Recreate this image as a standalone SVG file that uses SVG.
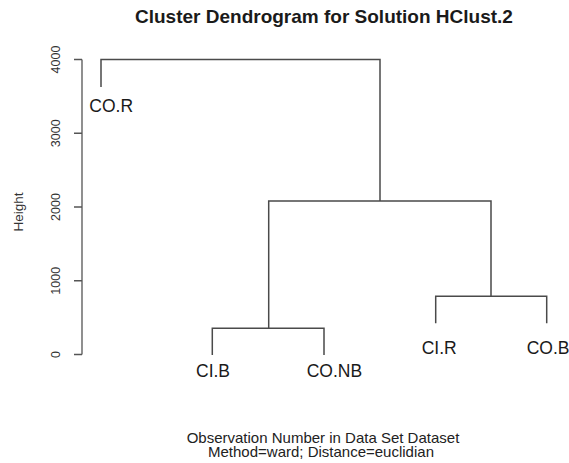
<svg xmlns="http://www.w3.org/2000/svg" width="569" height="463" viewBox="0 0 569 463">
<style>
text{font-family:"Liberation Sans",Arial,sans-serif;fill:#1a1a1a}
.title{font-size:19px;font-weight:bold}
.lab{font-size:17.5px}
.tick{font-size:12.5px;fill:#333}
.ax{font-size:13.5px;fill:#333}
.xl{font-size:15px;fill:#222}
.ln{stroke:#4a4a4a;stroke-width:1.5;fill:none}
.axl{stroke:#555;stroke-width:1.3;fill:none}
</style>
<rect width="569" height="463" fill="#fff"/>
<text class="title" x="135" y="23">Cluster Dendrogram for Solution HClust.2</text>
<g id="axis">
<path class="axl" d="M82 59.5V354.5M74 59.5H82M74 133.25H82M74 207H82M74 280.75H82M74 354.5H82"/>
<text class="tick" transform="translate(59.5,59.5) rotate(-90)" text-anchor="middle">4000</text>
<text class="tick" transform="translate(59.5,133.25) rotate(-90)" text-anchor="middle">3000</text>
<text class="tick" transform="translate(59.5,207) rotate(-90)" text-anchor="middle">2000</text>
<text class="tick" transform="translate(59.5,280.75) rotate(-90)" text-anchor="middle">1000</text>
<text class="tick" transform="translate(59.5,354.5) rotate(-90)" text-anchor="middle">0</text>
<text class="ax" transform="translate(23,212) rotate(-90)" text-anchor="middle">Height</text>
</g>
<g id="connectors">
<path class="ln" d="M101 87V59.5H380V201"/>
<path class="ln" d="M268.7 328.3V201H491V296.3"/>
<path class="ln" d="M212.3 355V328.3H324V355"/>
<path class="ln" d="M435.7 323.3V296.3H546.7V323.3"/>
</g>
<g id="node-COR"><text class="lab" x="89.3" y="111.7">CO.R</text></g>
<g id="node-CIB"><text class="lab" x="196" y="377">CI.B</text></g>
<g id="node-CONB"><text class="lab" x="306.7" y="377">CO.NB</text></g>
<g id="node-CIR"><text class="lab" x="421.7" y="354">CI.R</text></g>
<g id="node-COB"><text class="lab" x="526.7" y="354">CO.B</text></g>
<text class="xl" x="323" y="442.5" text-anchor="middle">Observation Number in Data Set Dataset</text>
<text class="xl" x="321" y="457" text-anchor="middle">Method=ward; Distance=euclidian</text>
</svg>
